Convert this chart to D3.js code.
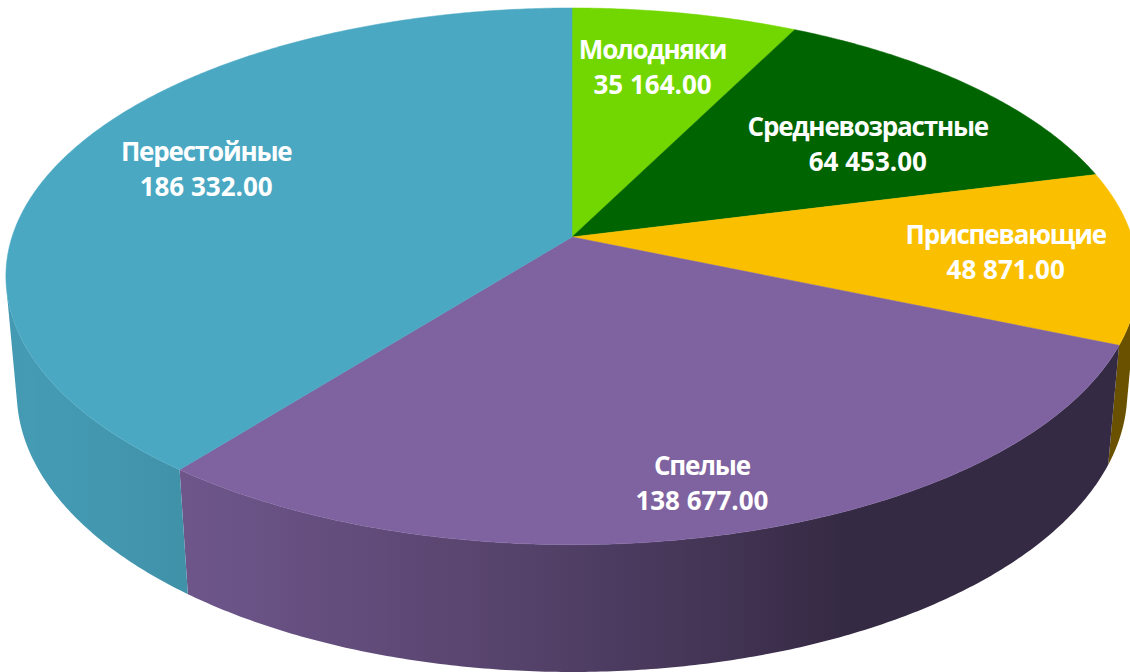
<!DOCTYPE html>
<html>
<head>
<meta charset="utf-8">
<script src="https://cdn.jsdelivr.net/npm/d3@7"></script>
<style>
  body { margin: 0; background: #fff; }
  text { font-family: "Open Sans", "Noto Sans", sans-serif; font-weight: bold; }
</style>
</head>
<body>
<svg id="chart" width="1130" height="672"></svg>
<script>
// age groups of the stand and their areas
var categories = ["Молодняки", "Средневозрастные", "Приспевающие", "Спелые", "Перестойные"];
var values = [35164, 64453, 48871, 138677, 186332];
var colors = ["#72d600", "#006400", "#fac000", "#7f63a0", "#4aa8c3"];

// label placement on the top face: [radius fraction, angle nudge in degrees]
var labelSpot = [[0.73, -0.8], [0.67, 5], [0.77, 0], [0.85, 0.5], [0.73, 2.4]];

var width = 1130, height = 672;

/* perspective view of a tilted disc */
var cam = {
    cx: 572, cy: 237,      // screen position of the pie centre
    fx: 3360, fy: 3310,    // focal scale
    dist: 6,               // camera distance in radii
    tilt: Math.asin(0.476),
    depth: 0.241           // thickness of the disc
};
var sinT = Math.sin(cam.tilt), cosT = Math.cos(cam.tilt);

// theta: clockwise from 12 o'clock (d3.pie convention), r: radius fraction, yUp: height
function project(theta, r, yUp) {
    var X = r * Math.sin(theta), Z = r * Math.cos(theta);
    var d = cam.dist + Z * cosT - yUp * sinT;
    return [cam.cx + cam.fx * X / d, cam.cy - cam.fy * (yUp * cosT + Z * sinT) / d];
}

var fmt = d3.formatLocale({decimal: ".", thousands: " ", grouping: [3], currency: ["", ""]}).format(",.2f");

var data = categories.map(function(c, i) { return {name: c, value: values[i], color: colors[i], idx: i}; });
var arcs = d3.pie().sort(null).value(function(d) { return d.value; })(data);

var svg = d3.select("#chart");
var defs = svg.append("defs");
var line = d3.line();
var step = Math.PI / 360;

/*** outer wall: only the part that faces the camera ***/
var visLimit = Math.acos(-1 / (cam.dist * cosT));   // cos(theta) < -1/(D cos tilt)
var visFrom = visLimit, visTo = 2 * Math.PI - visLimit;
var lightDir = 245 * Math.PI / 180;

function shade(hex, theta) {
    var k = 0.42 + 0.5 * Math.max(0, Math.cos(theta - lightDir));
    var c = d3.rgb(hex);
    return d3.rgb(c.r * k, c.g * k, c.b * k).formatHex();
}

var walls = [];
arcs.forEach(function(a) {
    var t0 = Math.max(a.startAngle, visFrom), t1 = Math.min(a.endAngle, visTo);
    if (t1 <= t0) return;
    var top = [], bottom = [];
    for (var t = t0; t < t1; t += step) {
        top.push(project(t, 1, 0));
        bottom.push(project(t, 1, -cam.depth));
    }
    top.push(project(t1, 1, 0));
    bottom.push(project(t1, 1, -cam.depth));
    // colour stops along x
    var xs = top.map(function(p) { return p[0]; });
    var x0 = d3.min(xs), x1 = d3.max(xs);
    var stops = d3.range(0, 21).map(function(i) {
        var t = t0 + (t1 - t0) * i / 20;
        return {off: (project(t, 1, 0)[0] - x0) / Math.max(1, x1 - x0), color: shade(a.data.color, t)};
    }).sort(function(p, q) { return p.off - q.off; });
    walls.push({id: "wall" + a.data.idx, pts: top.concat(bottom.reverse()), x0: x0, x1: x1, stops: stops});
});

var grads = defs.selectAll("linearGradient")
    .data(walls)
    .join("linearGradient")
    .attr("id", function(d) { return d.id; })
    .attr("gradientUnits", "userSpaceOnUse")
    .attr("x1", function(d) { return d.x0; })
    .attr("x2", function(d) { return d.x1; })
    .attr("y1", 0).attr("y2", 0);
grads.selectAll("stop")
    .data(function(d) { return d.stops; })
    .join("stop")
    .attr("offset", function(s) { return s.off; })
    .attr("stop-color", function(s) { return s.color; });

svg.append("g").attr("class", "walls")
    .selectAll("path")
    .data(walls)
    .join("path")
    .attr("d", function(d) { return line(d.pts) + "Z"; })
    .attr("fill", function(d) { return "url(#" + d.id + ")"; });

/*** top faces ***/
svg.append("g").attr("class", "tops")
    .selectAll("path")
    .data(arcs)
    .join("path")
    .attr("d", function(a) {
        var pts = [project(0, 0, 0)];
        for (var t = a.startAngle; t < a.endAngle; t += step) pts.push(project(t, 1, 0));
        pts.push(project(a.endAngle, 1, 0));
        return line(pts) + "Z";
    })
    .attr("fill", function(a) { return a.data.color; })
    .attr("stroke", function(a) { return a.data.color; })
    .attr("stroke-width", 0.5)
    .attr("stroke-linejoin", "round");

/*** labels ***/
svg.append("g").attr("class", "labels")
    .selectAll("text")
    .data(arcs)
    .join("text")
    .attr("text-anchor", "middle")
    .attr("fill", "#ffffff")
    .attr("font-size", 26)
    .each(function(a) {
        var spot = labelSpot[a.data.idx];
        var mid = (a.startAngle + a.endAngle) / 2 + spot[1] * Math.PI / 180;
        var p = project(mid, spot[0], 0);
        var el = d3.select(this);
        el.append("tspan").attr("x", p[0]).attr("y", p[1] - 8.5)
            .attr("letter-spacing", -1.2).text(a.data.name);
        el.append("tspan").attr("x", p[0]).attr("y", p[1] + 26.5).text(fmt(a.data.value));
    });
</script>
</body>
</html>
